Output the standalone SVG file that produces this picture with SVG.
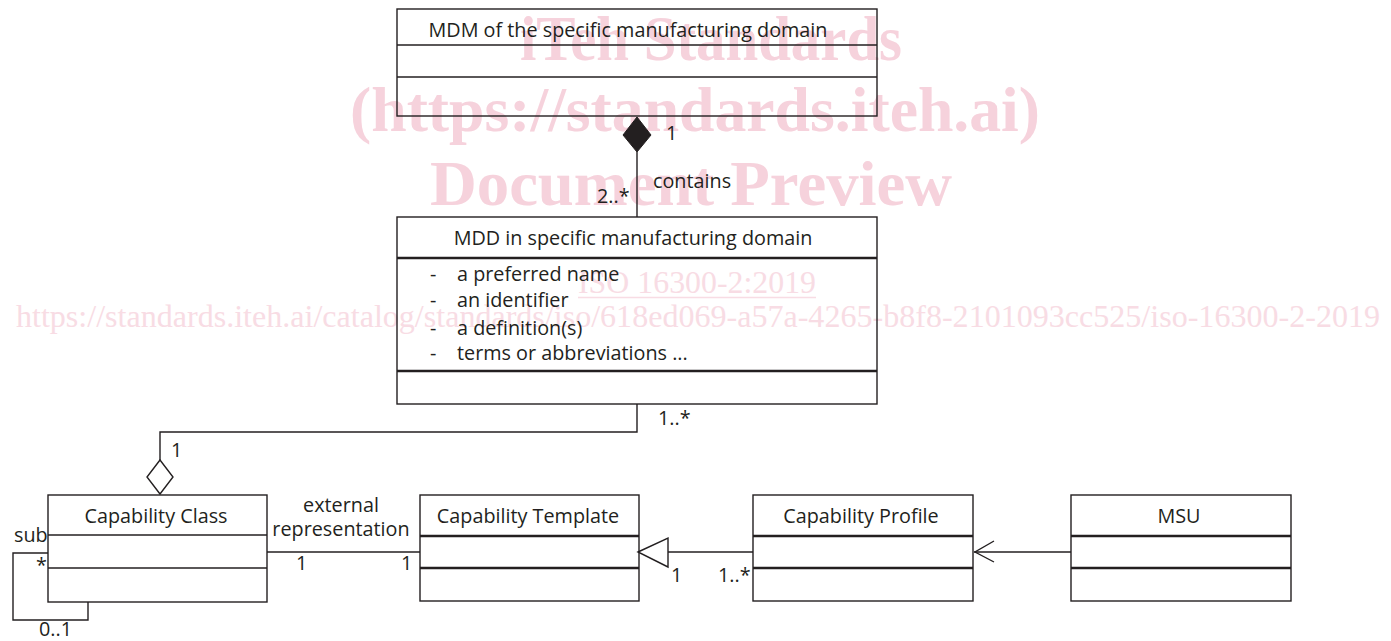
<svg xmlns="http://www.w3.org/2000/svg" width="1391" height="641" viewBox="0 0 1391 641">
<style>
.box{fill:none;stroke:#231f20;stroke-width:1.4}
.div{stroke:#231f20;stroke-width:1.3}
.thk{stroke:#231f20;stroke-width:2.6}
.ln{fill:none;stroke:#231f20;stroke-width:1.4}
.t{font-family:"Open Sans","Noto Sans",sans-serif;font-size:19.8px;fill:#231f20}
.c{text-anchor:middle}
.wm{font-family:"Liberation Serif","Times New Roman",serif;font-weight:bold;font-size:64px;fill:#f6d2dc}
.wu{font-family:"Liberation Serif","Times New Roman",serif;fill:#f8dce4}
</style>
<rect width="1391" height="641" fill="#ffffff"/>
<g id="watermark">
<text class="wm" x="520" y="60" textLength="382" lengthAdjust="spacingAndGlyphs">iTeh Standards</text>
<text class="wm" x="350" y="131" textLength="690" lengthAdjust="spacingAndGlyphs">(https://standards.iteh.ai)</text>
<text class="wm" x="430" y="205" textLength="522" lengthAdjust="spacingAndGlyphs">Document Preview</text>
<text class="wu" x="578" y="293" font-size="32" textLength="238" lengthAdjust="spacingAndGlyphs">ISO 16300-2:2019</text>
<line x1="578" y1="297.5" x2="816" y2="297.5" stroke="#f8dce4" stroke-width="1.6"/>
<text class="wu" x="16" y="327" font-size="31" textLength="1364" lengthAdjust="spacingAndGlyphs">https://standards.iteh.ai/catalog/standards/iso/618ed069-a57a-4265-b8f8-2101093cc525/iso-16300-2-2019</text>
</g>
<g id="connectors">
<line class="ln" x1="637" y1="152" x2="637" y2="217"/>
<polygon points="637,117 651,135 637,152 623,135" fill="#231f20" stroke="#231f20" stroke-width="1"/>
<polyline class="ln" points="637,404 637,432 160,432 160,460"/>
<polygon points="160,460 173,477 160,494 147,477" fill="#ffffff" stroke="#231f20" stroke-width="1.4"/>
<polyline class="ln" points="48,553 13,553 13,620 88,620 88,602"/>
<line class="ln" x1="267" y1="552" x2="420" y2="552"/>
<line class="ln" x1="668" y1="552" x2="753" y2="552"/>
<polygon points="638,552 668,538 668,567" fill="#ffffff" stroke="#231f20" stroke-width="1.4"/>
<line class="ln" x1="974" y1="552" x2="1071" y2="552"/>
<polyline class="ln" points="994,541 975,552 994,562"/>
<text class="t" x="666" y="140">1</text>
<text class="t" x="653" y="188">contains</text>
<text class="t" x="597" y="203">2..*</text>
<text class="t" x="658" y="425">1..*</text>
<text class="t" x="171" y="457">1</text>
<text class="t" x="14" y="542">sub</text>
<text class="t" x="36" y="572">*</text>
<text class="t" x="39" y="636">0..1</text>
<text class="t c" x="341" y="512">external</text>
<text class="t c" x="341" y="536">representation</text>
<text class="t" x="296" y="570">1</text>
<text class="t" x="401" y="570">1</text>
<text class="t" x="671" y="582">1</text>
<text class="t" x="718" y="582">1..*</text>
</g>
<g id="mdm">
<rect class="box" x="397" y="9" width="480" height="107"/>
<line class="div" x1="397" y1="45" x2="877" y2="45"/>
<line class="div" x1="397" y1="77" x2="877" y2="77"/>
<text class="t c" x="628" y="37">MDM of the specific manufacturing domain</text>
</g>
<g id="mdd">
<rect class="box" x="397" y="217" width="480" height="187"/>
<line class="thk" x1="397" y1="258" x2="877" y2="258"/>
<line class="thk" x1="397" y1="371" x2="877" y2="371"/>
<text class="t c" x="633" y="245">MDD in specific manufacturing domain</text>
<text class="t" x="430" y="281">-</text><text class="t" x="457" y="281">a preferred name</text>
<text class="t" x="430" y="307">-</text><text class="t" x="457" y="307">an identifier</text>
<text class="t" x="430" y="335">-</text><text class="t" x="457" y="335">a definition(s)</text>
<text class="t" x="430" y="360">-</text><text class="t" x="457" y="360">terms or abbreviations ...</text>
</g>
<g id="capability-class">
<rect class="box" x="48" y="495" width="219" height="107"/>
<line class="div" x1="48" y1="535" x2="267" y2="535"/>
<line class="div" x1="48" y1="568" x2="267" y2="568"/>
<text class="t c" x="156" y="523">Capability Class</text>
</g>
<g id="capability-template">
<rect class="box" x="420" y="495" width="219" height="106"/>
<line class="thk" x1="420" y1="536" x2="639" y2="536"/>
<line class="thk" x1="420" y1="568" x2="639" y2="568"/>
<text class="t c" x="528" y="523">Capability Template</text>
</g>
<g id="capability-profile">
<rect class="box" x="753" y="495" width="220" height="106"/>
<line class="thk" x1="753" y1="536" x2="973" y2="536"/>
<line class="thk" x1="753" y1="568" x2="973" y2="568"/>
<text class="t c" x="861" y="523">Capability Profile</text>
</g>
<g id="msu">
<rect class="box" x="1071" y="495" width="220" height="106"/>
<line class="thk" x1="1071" y1="536" x2="1291" y2="536"/>
<line class="thk" x1="1071" y1="568" x2="1291" y2="568"/>
<text class="t c" x="1179" y="523">MSU</text>
</g>
</svg>
